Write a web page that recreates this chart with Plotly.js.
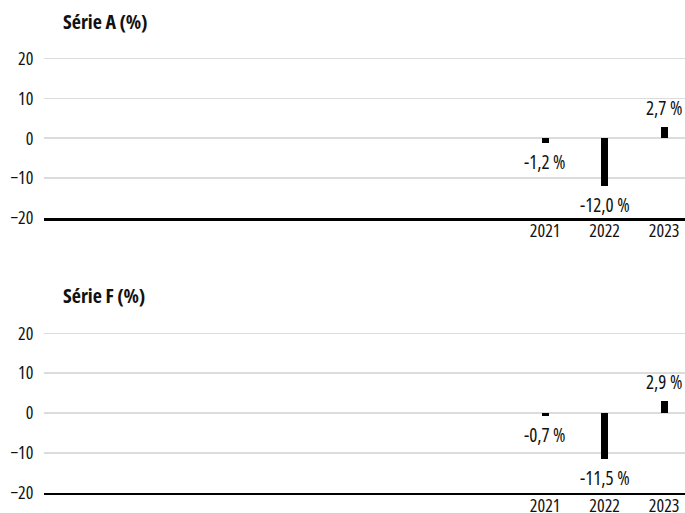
<!DOCTYPE html>
<html><head><meta charset="utf-8">
<script src="https://cdn.plot.ly/plotly-3.0.1.min.js"></script>
<style>html,body{margin:0;padding:0;background:#fff}#c{width:685px;height:513px}
text{font-stretch:75% !important}</style>
</head><body><div id="c"></div>
<script>
const years = [2021, 2022, 2023];
const tickLabels = ['2021', '2022', '2023'];
const serieA = [-1.2, -12.0, 2.7];
const serieF = [-0.7, -11.5, 2.9];
const titleA = 'Série A (%)';
const titleF = 'Série F (%)';

const FONT = '"Open Sans", "DejaVu Sans Condensed", sans-serif';
const FS = 18;
const fmt = v => v.toFixed(1).replace('.', ',') + ' %';

function barTrace(vals, xa, ya) {
  return {type: 'bar', x: years, y: vals, xaxis: xa, yaxis: ya, width: 0.12,
    marker: {color: '#000'}, hoverinfo: 'skip', showlegend: false};
}
function labels(vals, xr, yr) {
  return vals.map((v, i) => ({x: years[i], y: v, xref: xr, yref: yr, text: fmt(v),
    showarrow: false, yshift: v < 0 ? -19 : 19, yanchor: 'middle',
    font: {family: FONT, size: 19, color: '#111'}}));
}
const xBase = {range: [2012.58, 2023.35], tickvals: years, ticktext: tickLabels, showgrid: false,
  zeroline: false, showline: true, linecolor: '#000', linewidth: 2.5, ticks: '',
  ticklabelstandoff: -5, tickfont: {family: FONT, size: FS, color: '#111'}, fixedrange: true};
const yBase = {range: [-20, 22], tickvals: [-20, -10, 0, 10, 20], showgrid: true, gridcolor: '#dcdcdc',
  gridwidth: 1.5, zeroline: false, showline: false, ticks: 'outside', ticklen: 6,
  tickcolor: 'rgba(0,0,0,0)', tickfont: {family: FONT, size: FS, color: '#111'}, fixedrange: true};

const layout = {
  width: 685, height: 513, margin: {l: 0, r: 0, t: 0, b: 0},
  paper_bgcolor: '#fff', plot_bgcolor: '#fff', bargap: 0,
  xaxis: Object.assign({}, xBase, {domain: [0.0642, 1], anchor: 'y'}),
  yaxis: Object.assign({}, yBase, {domain: [0.5750, 0.9016], anchor: 'x'}),
  xaxis2: Object.assign({}, xBase, {domain: [0.0642, 1], anchor: 'y2'}),
  yaxis2: Object.assign({}, yBase, {domain: [0.0396, 0.3659], anchor: 'x2'}),
  annotations: [
    {text: '<b>' + titleA + '</b>', xref: 'paper', yref: 'paper', x: 61 / 685, y: 1 - 21 / 513,
     xanchor: 'left', yanchor: 'middle', showarrow: false, font: {family: FONT, size: 20, color: '#111'}},
    {text: '<b>' + titleF + '</b>', xref: 'paper', yref: 'paper', x: 61 / 685, y: 1 - 295 / 513,
     xanchor: 'left', yanchor: 'middle', showarrow: false, font: {family: FONT, size: 20, color: '#111'}}
  ].concat(labels(serieA, 'x', 'y'), labels(serieF, 'x2', 'y2'))
};
Plotly.newPlot('c', [barTrace(serieA, 'x', 'y'), barTrace(serieF, 'x2', 'y2')], layout,
  {displayModeBar: false, staticPlot: true});
</script></body></html>
